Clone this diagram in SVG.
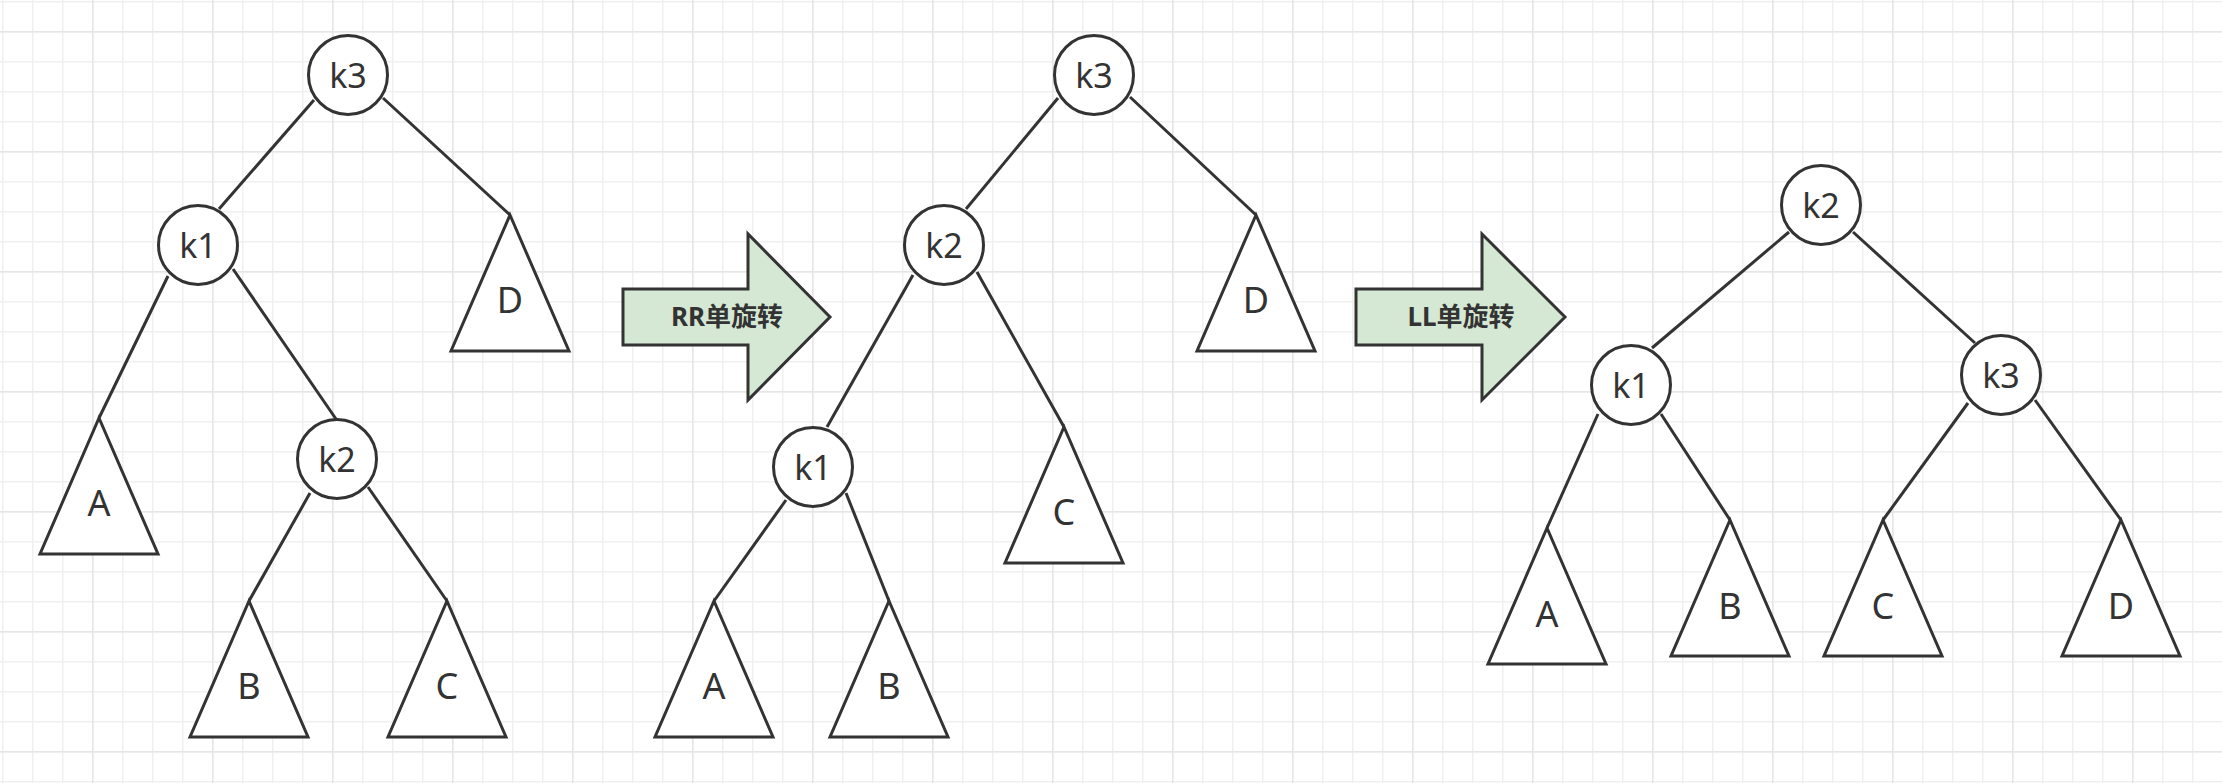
<svg xmlns="http://www.w3.org/2000/svg" width="2222" height="783" viewBox="0 0 2222 783">
<style>
.c{fill:#fff;stroke:#333;stroke-width:3}
.t{fill:#fff;stroke:#333;stroke-width:3;stroke-linejoin:miter}
.e{fill:none;stroke:#333;stroke-width:3}
.l{font-family:"Noto Sans","Open Sans","DejaVu Sans",sans-serif;font-size:34px;fill:#333;text-anchor:middle}
.tl{font-family:"Noto Sans","Open Sans","DejaVu Sans",sans-serif;font-size:36px;fill:#333;text-anchor:middle}
.a{fill:#d5e8d4;stroke:#333;stroke-width:3;stroke-linejoin:miter}
.at{font-family:"Noto Sans","Noto Sans CJK SC",sans-serif;font-weight:bold;font-size:26px;fill:#333;text-anchor:middle}
</style>
<defs>
<pattern id="gmin" width="30" height="30" patternUnits="userSpaceOnUse" x="2" y="1">
<path d="M0.5 0V30M0 0.5H30" stroke="#f0f0f0" stroke-width="2" fill="none"/>
</pattern>
<pattern id="gmaj" width="120" height="120" patternUnits="userSpaceOnUse" x="92" y="31">
<path d="M0.5 0V120M0 0.5H120" stroke="#e6e6e6" stroke-width="2" fill="none"/>
</pattern>
</defs>
<rect width="2222" height="783" fill="#fff"/>
<rect width="2222" height="783" fill="url(#gmin)"/>
<rect width="2222" height="783" fill="url(#gmaj)"/>

<g id="connectors">
<path class="e" d="M314 100L219 209"/>
<path class="e" d="M383 98L510 215"/>
<path class="e" d="M168 276L99 418"/>
<path class="e" d="M233 269L336 419"/>
<path class="e" d="M310 493L249 601"/>
<path class="e" d="M368 487L447 601"/>

<path class="e" d="M1058 98L966 209"/>
<path class="e" d="M1130 97L1256 215"/>
<path class="e" d="M913 275L827 427"/>
<path class="e" d="M977 272L1064 427"/>
<path class="e" d="M786 500L714 601"/>
<path class="e" d="M846 493L889 601"/>

<path class="e" d="M1789 232L1652 348"/>
<path class="e" d="M1853 232L1975 343"/>
<path class="e" d="M1598 414L1547 528"/>
<path class="e" d="M1661 414L1730 520"/>
<path class="e" d="M1968 403L1883 520"/>
<path class="e" d="M2035 400L2121 520"/>
</g>

<g id="t1-k3"><circle class="c" cx="348" cy="75" r="39.5"/><text class="l" x="348" y="87.5">k3</text></g>
<g id="t1-k1"><circle class="c" cx="198" cy="245" r="39.5"/><text class="l" x="198" y="257.5">k1</text></g>
<g id="t1-k2"><circle class="c" cx="337" cy="459" r="39.5"/><text class="l" x="337" y="471.5">k2</text></g>
<g id="t1-A"><polygon class="t" points="99,418 158,554 40,554"/><text class="tl" x="99" y="516">A</text></g>
<g id="t1-B"><polygon class="t" points="249,601 308,737 190,737"/><text class="tl" x="249" y="699">B</text></g>
<g id="t1-C"><polygon class="t" points="447,601 506,737 388,737"/><text class="tl" x="447" y="699">C</text></g>
<g id="t1-D"><polygon class="t" points="510,215 569,351 451,351"/><text class="tl" x="510" y="313">D</text></g>

<g id="arrow-rr"><polygon class="a" points="623,289 748,289 748,234 830,317 748,400 748,345 623,345"/><text class="at" x="727" y="326">RR单旋转</text></g>

<g id="t2-k3"><circle class="c" cx="1094" cy="75" r="39.5"/><text class="l" x="1094" y="87.5">k3</text></g>
<g id="t2-k2"><circle class="c" cx="944" cy="245" r="39.5"/><text class="l" x="944" y="257.5">k2</text></g>
<g id="t2-k1"><circle class="c" cx="813" cy="467" r="39.5"/><text class="l" x="813" y="479.5">k1</text></g>
<g id="t2-A"><polygon class="t" points="714,601 773,737 655,737"/><text class="tl" x="714" y="699">A</text></g>
<g id="t2-B"><polygon class="t" points="889,601 948,737 830,737"/><text class="tl" x="889" y="699">B</text></g>
<g id="t2-C"><polygon class="t" points="1064,427 1123,563 1005,563"/><text class="tl" x="1064" y="525">C</text></g>
<g id="t2-D"><polygon class="t" points="1256,215 1315,351 1197,351"/><text class="tl" x="1256" y="313">D</text></g>

<g id="arrow-ll"><polygon class="a" points="1356,289 1482,289 1482,234 1565,317 1482,400 1482,345 1356,345"/><text class="at" x="1461" y="326">LL单旋转</text></g>

<g id="t3-k2"><circle class="c" cx="1821" cy="205" r="39.5"/><text class="l" x="1821" y="217.5">k2</text></g>
<g id="t3-k1"><circle class="c" cx="1631" cy="385" r="39.5"/><text class="l" x="1631" y="397.5">k1</text></g>
<g id="t3-k3"><circle class="c" cx="2001" cy="375" r="39.5"/><text class="l" x="2001" y="387.5">k3</text></g>
<g id="t3-A"><polygon class="t" points="1547,528 1606,664 1488,664"/><text class="tl" x="1547" y="627">A</text></g>
<g id="t3-B"><polygon class="t" points="1730,520 1789,656 1671,656"/><text class="tl" x="1730" y="619">B</text></g>
<g id="t3-C"><polygon class="t" points="1883,520 1942,656 1824,656"/><text class="tl" x="1883" y="619">C</text></g>
<g id="t3-D"><polygon class="t" points="2121,520 2180,656 2062,656"/><text class="tl" x="2121" y="619">D</text></g>
</svg>
